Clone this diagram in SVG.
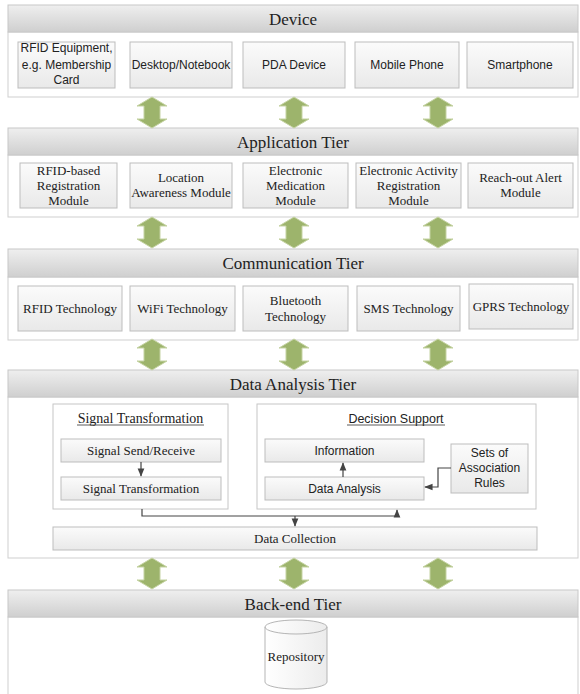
<svg xmlns="http://www.w3.org/2000/svg" width="580" height="694" viewBox="0 0 580 694">
<defs>
<linearGradient id="hdr" x1="0" y1="0" x2="0" y2="1">
<stop offset="0" stop-color="#efefef"/>
<stop offset="1" stop-color="#cfcfcf"/>
</linearGradient>
<linearGradient id="box" x1="0" y1="0" x2="0" y2="1">
<stop offset="0" stop-color="#fbfbfb"/>
<stop offset="1" stop-color="#e9e9e9"/>
</linearGradient>
<linearGradient id="cyl" x1="0" y1="0" x2="1" y2="0">
<stop offset="0" stop-color="#ffffff"/>
<stop offset="1" stop-color="#ececec"/>
</linearGradient>
<marker id="ah" viewBox="0 0 10 10" refX="9" refY="5" markerWidth="7" markerHeight="7" orient="auto">
<path d="M0,1 L10,5 L0,9 Z" fill="#444"/>
</marker>
<path id="dbl" d="M0,0 L15,9 L8,9 L8,22 L15,22 L0,31 L-15,22 L-8,22 L-8,9 L-15,9 Z"/>
</defs>
<style>
.hdr{fill:url(#hdr);stroke:#c8c8c8;stroke-width:1}
.panel{fill:#ffffff;stroke:#cfcfcf;stroke-width:1}
.box{fill:url(#box);stroke:#bdbdbd;stroke-width:1}
.cont{fill:#ffffff;stroke:#c6c6c6;stroke-width:1}
.ht{font-family:"Liberation Serif",serif;font-size:17px;fill:#222;text-anchor:middle}
.st{font-family:"Liberation Sans",sans-serif;font-size:12px;fill:#222;text-anchor:middle}
.rt{font-family:"Liberation Serif",serif;font-size:13px;fill:#222;text-anchor:middle}
.dbl{fill:#9db46c;stroke:#c5d3a3;stroke-width:1}
.ln{fill:none;stroke:#444;stroke-width:1.2}
</style>

<g id="tier-device">
<rect class="panel" x="8" y="32" width="570" height="65"/>
<rect class="hdr" x="8" y="5" width="570" height="27"/>
<text class="ht" x="293" y="24.5">Device</text>
</g>
<g id="dev-rfid"><rect class="box" x="18" y="42" width="97" height="46"/>
<text class="st" x="66.5" y="52">RFID Equipment,</text><text class="st" x="66.5" y="69">e.g. Membership</text><text class="st" x="66.5" y="84">Card</text></g>
<g id="dev-desktop"><rect class="box" x="130" y="42" width="102" height="46"/>
<text class="st" x="181" y="69">Desktop/Notebook</text></g>
<g id="dev-pda"><rect class="box" x="243" y="42" width="102" height="46"/>
<text class="st" x="294" y="69">PDA Device</text></g>
<g id="dev-mobile"><rect class="box" x="355" y="42" width="104" height="46"/>
<text class="st" x="407" y="69">Mobile Phone</text></g>
<g id="dev-smart"><rect class="box" x="467" y="42" width="106" height="46"/>
<text class="st" x="520" y="69">Smartphone</text></g>

<g id="tier-app">
<rect class="panel" x="8" y="155" width="570" height="62"/>
<rect class="hdr" x="8" y="128" width="570" height="27"/>
<text class="ht" x="293" y="147.5">Application Tier</text>
</g>
<g id="app-rfid"><rect class="box" x="20" y="163" width="97" height="45"/>
<text class="rt" x="68.5" y="174.5">RFID-based</text><text class="rt" x="68.5" y="189.5">Registration</text><text class="rt" x="68.5" y="204.5">Module</text></g>
<g id="app-location"><rect class="box" x="130" y="163" width="102" height="45"/>
<text class="rt" x="181" y="182">Location</text><text class="rt" x="181" y="197">Awareness Module</text></g>
<g id="app-med"><rect class="box" x="243" y="163" width="105" height="45"/>
<text class="rt" x="295.5" y="174.5">Electronic</text><text class="rt" x="295.5" y="189.5">Medication</text><text class="rt" x="295.5" y="204.5">Module</text></g>
<g id="app-activity"><rect class="box" x="356" y="163" width="105" height="45"/>
<text class="rt" x="408.5" y="174.5">Electronic Activity</text><text class="rt" x="408.5" y="189.5">Registration</text><text class="rt" x="408.5" y="204.5">Module</text></g>
<g id="app-alert"><rect class="box" x="468" y="163" width="105" height="45"/>
<text class="rt" x="520.5" y="182">Reach-out Alert</text><text class="rt" x="520.5" y="197">Module</text></g>

<g id="tier-comm">
<rect class="panel" x="8" y="277" width="570" height="63"/>
<rect class="hdr" x="8" y="249" width="570" height="28"/>
<text class="ht" x="293" y="269">Communication Tier</text>
</g>
<g id="comm-rfid"><rect class="box" x="18" y="286" width="104" height="45"/>
<text class="rt" x="70" y="313">RFID Technology</text></g>
<g id="comm-wifi"><rect class="box" x="130" y="286" width="105" height="45"/>
<text class="rt" x="182.5" y="313">WiFi Technology</text></g>
<g id="comm-bt"><rect class="box" x="243" y="286" width="105" height="45"/>
<text class="rt" x="295.5" y="304.5">Bluetooth</text><text class="rt" x="295.5" y="320.5">Technology</text></g>
<g id="comm-sms"><rect class="box" x="357" y="286" width="103" height="45"/>
<text class="rt" x="408.5" y="313">SMS Technology</text></g>
<g id="comm-gprs"><rect class="box" x="469" y="284" width="104" height="45"/>
<text class="rt" x="521" y="311">GPRS Technology</text></g>

<g id="tier-data">
<rect class="panel" x="8" y="397" width="570" height="161"/>
<rect class="hdr" x="8" y="370" width="570" height="27"/>
<text class="ht" x="293" y="389.5">Data Analysis Tier</text>
</g>
<g id="signal-container">
<rect class="cont" x="53" y="404" width="175" height="105"/>
<text class="rt" x="140.5" y="423" style="font-size:14px">Signal Transformation</text>
<line x1="77" y1="425" x2="204" y2="425" stroke="#333" stroke-width="0.8"/>
</g>
<g id="signal-send"><rect class="box" x="61" y="439" width="160" height="23"/>
<text class="rt" x="141" y="455">Signal Send/Receive</text></g>
<g id="signal-transform"><rect class="box" x="61" y="477" width="160" height="23"/>
<text class="rt" x="141" y="493">Signal Transformation</text></g>
<g id="decision-container">
<rect class="cont" x="257" y="404" width="279" height="105"/>
<text class="st" x="396" y="423" style="font-size:12.5px">Decision Support</text>
<line x1="347" y1="425" x2="445" y2="425" stroke="#333" stroke-width="0.8"/>
</g>
<g id="information"><rect class="box" x="265" y="439" width="159" height="23"/>
<text class="st" x="344.5" y="455">Information</text></g>
<g id="data-analysis"><rect class="box" x="265" y="477" width="159" height="23"/>
<text class="st" x="344.5" y="493">Data Analysis</text></g>
<g id="assoc-rules"><rect class="box" x="451" y="444" width="77" height="49"/>
<text class="st" x="489.5" y="457">Sets of</text><text class="st" x="489.5" y="472">Association</text><text class="st" x="489.5" y="487">Rules</text></g>
<g id="data-collection"><rect class="box" x="53" y="527" width="484" height="23"/>
<text class="rt" x="295" y="543">Data Collection</text></g>

<g id="tier-backend">
<rect class="panel" x="8" y="617" width="570" height="90"/>
<rect class="hdr" x="8" y="590" width="570" height="27"/>
<text class="ht" x="293" y="609.5">Back-end Tier</text>
</g>
<g id="repository">
<path d="M265,627 A31,7 0 0 1 327,627 L327,682 A31,7 0 0 1 265,682 Z" fill="url(#cyl)" stroke="#b5b5b5" stroke-width="1"/>
<path d="M265,627 A31,7 0 0 0 327,627" fill="none" stroke="#b5b5b5" stroke-width="1"/>
<text class="rt" x="296" y="661">Repository</text>
</g>

<g id="connectors">
<use href="#dbl" class="dbl" x="152" y="97"/>
<use href="#dbl" class="dbl" x="294" y="97"/>
<use href="#dbl" class="dbl" x="438" y="97"/>
<use href="#dbl" class="dbl" x="152" y="217"/>
<use href="#dbl" class="dbl" x="294" y="217"/>
<use href="#dbl" class="dbl" x="438" y="217"/>
<use href="#dbl" class="dbl" x="152" y="339"/>
<use href="#dbl" class="dbl" x="294" y="339"/>
<use href="#dbl" class="dbl" x="438" y="339"/>
<use href="#dbl" class="dbl" x="152" y="558"/>
<use href="#dbl" class="dbl" x="294" y="558"/>
<use href="#dbl" class="dbl" x="438" y="558"/>
<line class="ln" x1="141" y1="462" x2="141" y2="476" marker-end="url(#ah)"/>
<line class="ln" x1="343" y1="477" x2="343" y2="463" marker-end="url(#ah)"/>
<polyline class="ln" points="451,468 438,468 438,487 425,487" marker-end="url(#ah)"/>
<polyline class="ln" points="142,509 142,516 397,516 397,510" marker-end="url(#ah)"/>
<line class="ln" x1="295" y1="516" x2="295" y2="526" marker-end="url(#ah)"/>
</g>
</svg>
